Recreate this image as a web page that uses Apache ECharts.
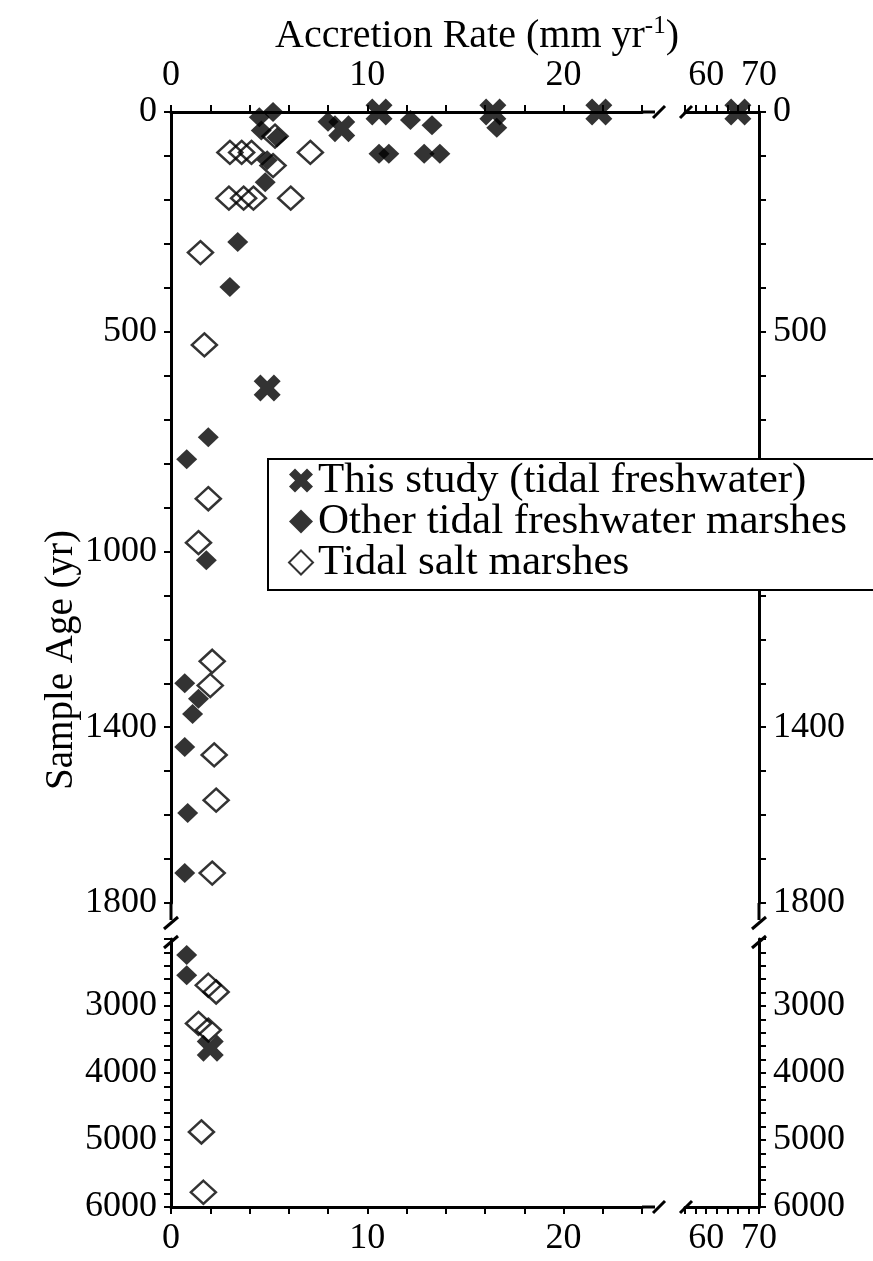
<!DOCTYPE html>
<html><head><meta charset="utf-8">
<script src="https://cdn.jsdelivr.net/npm/echarts@6/dist/echarts.min.js"></script>
<style>html,body{margin:0;padding:0;background:#fff}#c{width:873px;height:1261px}</style>
</head><body><div id="c"></div>
<script>
// ---- data (accretion rate mm/yr, sample age yr) ----
const studyX = [10.6, 16.4, 21.8, 66.0, 8.7, 4.9, 2.0];
const studyY = [0, 0, 0, 0, 38, 628, 3630];

const freshX = [5.2, 4.5, 4.6, 5.4, 4.9, 4.8, 8.0, 12.2, 13.3, 16.6, 10.6, 11.1, 12.9, 13.7,
                3.4, 3.0, 1.9, 0.8, 1.8, 0.7, 1.4, 1.1, 0.7, 0.85, 0.7, 0.8, 0.8];
const freshY = [0, 12, 42, 58, 110, 160, 22, 18, 30, 36, 95, 95, 95, 95,
                296, 398, 740, 790, 1020, 1300, 1335, 1370, 1445, 1595, 1732, 2240, 2540];

const saltX = [3.0, 3.6, 4.1, 7.1, 2.95, 3.7, 4.2, 6.1, 5.3, 5.2, 1.5, 1.7, 1.9, 1.4,
               2.1, 2.0, 2.2, 2.3, 2.1, 1.9, 2.3, 1.4, 1.9, 1.55, 1.65];
const saltY = [92, 92, 92, 92, 196, 196, 196, 196, 55, 122, 320, 530, 880, 980,
               1250, 1305, 1463, 1566, 1732, 2690, 2790, 3260, 3360, 4880, 5780];

const seriesNames = ['This study (tidal freshwater)', 'Other tidal freshwater marshes', 'Tidal salt marshes'];
const xLabelsMain = [0, 10, 20];
const xLabelsHigh = [60, 70];
const yLabelsMain = [0, 500, 1000, 1400, 1800];
const yLabelsLow = [3000, 4000, 5000, 6000];

// axis segments (broken axes)
const xMain = [0, 24], xHigh = [56, 70];
const yMain = [0, 1800], yLow = [2000, 6000];

const FONT = 'Liberation Serif';
const chart = echarts.init(document.getElementById('c'), null, {renderer: 'canvas'});

function split(xs, ys) {
  const g = [[], [], [], []];
  xs.forEach((x, i) => {
    const y = ys[i];
    const gi = (x > xMain[1] + 5 ? 1 : 0) + (y > yMain[1] + 100 ? 2 : 0);
    g[gi].push([x, y]);
  });
  return g;
}

const axisLine = {show: true, lineStyle: {color: '#000', width: 3}};
const axisTick = {show: true, inside: false, length: 7, lineStyle: {color: '#000', width: 2}};
const lbl = (list, margin) => ({
  color: '#000', fontFamily: FONT, fontSize: 36, margin: margin,
  formatter: v => list.indexOf(v) >= 0 ? String(v) : ''
});

const grids = [
  {left: 171, top: 112, width: 471, height: 791},
  {left: 685, top: 112, width: 74, height: 791},
  {left: 171, top: 939, width: 471, height: 268},
  {left: 685, top: 939, width: 74, height: 268}
];

const xAxes = [
  {gridIndex: 0, type: 'value', position: 'top', min: xMain[0], max: xMain[1], interval: 2, axisLine, axisTick, splitLine: {show: false}, axisLabel: lbl(xLabelsMain, 18)},
  {gridIndex: 1, type: 'value', position: 'top', min: xHigh[0], max: xHigh[1], interval: 2, axisLine, axisTick, splitLine: {show: false}, axisLabel: lbl(xLabelsHigh, 18)},
  {gridIndex: 2, type: 'value', position: 'bottom', min: xMain[0], max: xMain[1], interval: 2, axisLine, axisTick, splitLine: {show: false}, axisLabel: lbl(xLabelsMain, 14)},
  {gridIndex: 3, type: 'value', position: 'bottom', min: xHigh[0], max: xHigh[1], interval: 2, axisLine, axisTick, splitLine: {show: false}, axisLabel: lbl(xLabelsHigh, 14)}
];
const yAxes = [
  {gridIndex: 0, type: 'value', position: 'left', inverse: true, min: yMain[0], max: yMain[1], interval: 100, axisLine, axisTick, splitLine: {show: false}, axisLabel: lbl(yLabelsMain, 14)},
  {gridIndex: 1, type: 'value', position: 'right', inverse: true, min: yMain[0], max: yMain[1], interval: 100, axisLine, axisTick, splitLine: {show: false}, axisLabel: lbl(yLabelsMain, 14)},
  {gridIndex: 2, type: 'value', position: 'left', inverse: true, min: yLow[0], max: yLow[1], interval: 200, axisLine, axisTick, splitLine: {show: false}, axisLabel: lbl(yLabelsLow, 14)},
  {gridIndex: 3, type: 'value', position: 'right', inverse: true, min: yLow[0], max: yLow[1], interval: 200, axisLine, axisTick, splitLine: {show: false}, axisLabel: lbl(yLabelsLow, 14)}
];

const crossPath = 'path://M0,6 L6,0 L12,6 L18,0 L24,6 L18,12 L24,18 L18,24 L12,18 L6,24 L0,18 L6,12 Z';
const styles = [
  {symbol: crossPath, symbolSize: 27, itemStyle: {color: '#000'}},
  {symbol: 'diamond', symbolSize: [21, 20], itemStyle: {color: '#000'}},
  {symbol: 'diamond', symbolSize: [25, 23], itemStyle: {color: 'rgba(255,255,255,0)', borderColor: '#000', borderWidth: 2.5}}
];
const groups = [split(studyX, studyY), split(freshX, freshY), split(saltX, saltY)];
const series = [];
[2, 1, 0].forEach(k => {
  for (let g = 0; g < 4; g++) {
    series.push(Object.assign({
      type: 'scatter', name: seriesNames[k], xAxisIndex: g, yAxisIndex: g,
      data: groups[k][g], clip: false, z: 3 + (2 - k)
    }, styles[k]));
  }
});

chart.setOption({
  animation: false,
  backgroundColor: '#fff',
  grid: grids,
  xAxis: xAxes,
  yAxis: yAxes,
  legend: {
    left: 268, top: 459, orient: 'vertical', z: 20,
    backgroundColor: '#fff', borderColor: '#000', borderWidth: 2, borderRadius: 0,
    padding: [0, 70, 6, 20], itemGap: -2, itemWidth: 24, itemHeight: 24,
    textStyle: {fontFamily: FONT, fontSize: 43, color: '#000'},
    data: seriesNames, selectedMode: false
  },
  series: series
});

// break marks and axis titles
const P = (g, x, y) => chart.convertToPixel({gridIndex: g}, [x, y]);
const gfx = [];
const seg = (x1, y1, x2, y2, w) => gfx.push({type: 'line', z: 30, shape: {x1, y1, x2, y2}, style: {stroke: '#000', lineWidth: w || 3}});
const slash = (cx, cy, hw, hh) => seg(cx - hw, cy + hh, cx + hw, cy - hh, 3);

const topY = P(0, 0, yMain[0])[1];
const botY = P(2, 0, yLow[1])[1];
const leftX = P(0, xMain[0], 0)[0];
const rightX = P(1, xHigh[1], 0)[0];
const xEnd = P(0, xMain[1], 0)[0];
const xStart2 = P(1, xHigh[0], 0)[0];
const yEnd = P(0, 0, yMain[1])[1];
const yStart2 = P(2, 0, yLow[0])[1];

[topY, botY].forEach(yy => {
  seg(xEnd, yy, xEnd + 13, yy);
  slash(xEnd + 17, yy, 6, 6);
  slash(xStart2 + 1, yy, 6, 6);
});
[leftX, rightX].forEach(xx => {
  seg(xx, yEnd, xx, yEnd + 17);
  slash(xx, yEnd + 20, 7, 6);
  slash(xx, yStart2 + 3, 7, 6);
});

gfx.push({
  type: 'text', z: 30, x: 0, y: 0,
  style: {
    text: 'Accretion Rate (mm yr{sup|-1})', x: 477, y: 36, align: 'center', verticalAlign: 'middle',
    font: '40px "Liberation Serif"', fill: '#000',
    rich: {sup: {fontSize: 25, fontFamily: FONT, verticalAlign: 'bottom', padding: [0, 0, 20, 0]}}
  }
});
gfx.push({
  type: 'text', z: 30, x: 62, y: 660, rotation: Math.PI / 2,
  style: {text: 'Sample Age (yr)', x: 0, y: 0, align: 'center', verticalAlign: 'middle', font: '39px "Liberation Serif"', fill: '#000'}
});
chart.setOption({graphic: gfx});
</script>
</body></html>
